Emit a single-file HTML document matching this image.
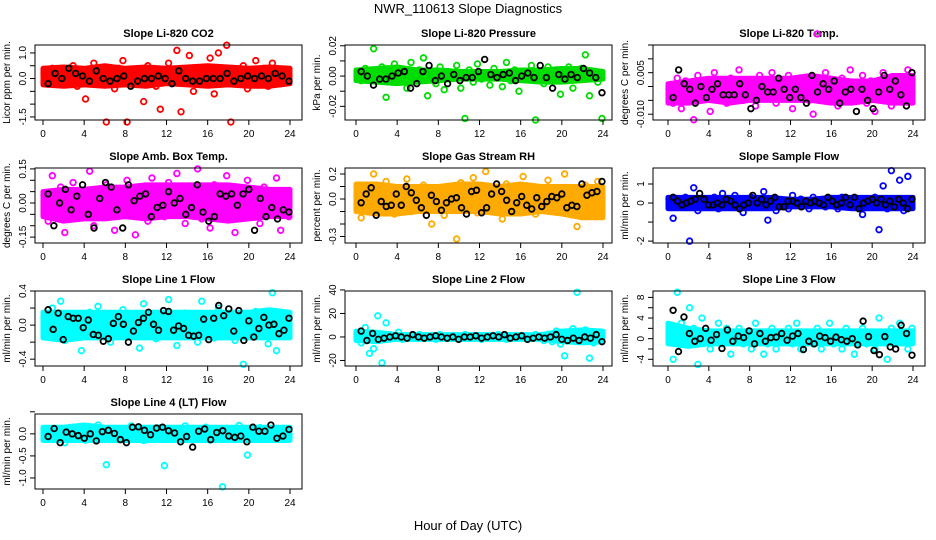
<!DOCTYPE html>
<html><head><meta charset="utf-8"><style>
body{margin:0;background:#fff}
svg{display:block;font-family:"Liberation Sans",sans-serif}
</style></head><body>
<svg id="chart" width="936" height="540" viewBox="0 0 936 540">
<text x="468" y="13" text-anchor="middle" font-size="13">NWR_110613  Slope Diagnostics</text>
<text x="468" y="530" text-anchor="middle" font-size="13">Hour of Day (UTC)</text>
</svg>
<script>
// x-axis categories (hours)
const xTicks = [0,4,8,12,16,20,24];
// hours of the dense-band bins
const bandHours = [0,2,4,6,8,10,12,14,16,18,20,22,24];
// Panel values (colored = all slopes, black = selected slopes)
const co2All = [0.2,-0.1,0.4,0.1,-0.2,0.3,0.0,0.5,-0.3,0.2,-0.8,0.1,0.6,-0.1,0.3,-1.7,0.2,-0.4,0.4,0.7,-1.7,0.1,-0.2,0.3,-0.9,0.5,0.0,-0.3,-1.2,0.2,0.6,-0.1,1.1,-1.3,0.3,0.9,-0.5,0.2,0.4,-0.2,0.8,-0.6,1.0,0.1,1.3,-1.7,0.3,-0.2,0.5,-0.4,0.2,0.7,-0.1,0.4,-0.3,0.6,0.0,-0.2,0.3,0.1];
const co2Sel = [-0.2,0.2,0.0,0.4,0.2,0.1,-0.1,0.3,0.0,-0.1,0.0,0.1,-0.3,-0.1,0.0,0.0,0.1,0.0,-0.2,0.3,0.0,-0.1,-0.1,0.0,0.0,0.0,0.2,-0.1,0.0,0.1,0.0,0.1,0.0,0.2,0.1,-0.1];
const co2Lo = [-0.25,-0.3,-0.25,-0.3,-0.25,-0.3,-0.2,-0.25,-0.3,-0.25,-0.3,-0.3,-0.2];
const co2Hi = [0.4,0.45,0.4,0.5,0.4,0.45,0.4,0.45,0.5,0.45,0.4,0.45,0.4];
const presAll = [0,-3,5,2,18,-2,6,-14,1,8,-4,3,-8,9,-2,4,12,-13,2,-5,6,-9,3,-1,7,-8,-28,4,-4,8,-2,2,-6,5,0,-7,9,-3,4,-10,3,-2,7,-29,1,-5,6,-3,4,-12,2,6,-8,-1,5,14,-13,3,-4,-28];
const presSel = [3,0,-6,-2,-2,0,2,3,-8,-5,3,7,-3,0,-5,1,-3,-1,-1,3,11,1,-1,1,2,-3,0,2,-1,7,-1,-8,1,-2,1,-1,5,2,-1,-11];
const presLo = [-3,-4,-5,-4,-3,-2,-2,-2,-3,-4,-4,-3,-2];
const presHi = [4,5,6,4,4,3,3,3,4,4,5,5,3];
const tempAll = [-1,-6,3,-8,2,-4,-12,4,-2,1,-9,5,-3,0,-6,3,-1,6,-5,2,-3,-7,4,-2,1,5,-6,0,-3,4,-8,2,-1,3,-5,-10,19,-2,5,-4,1,-7,3,-1,6,-3,0,4,-6,2,-9,-1,5,-4,-7,3,1,-5,6,-2];
const tempSel = [-4,6,1,-1,-6,0,-4,-1,1,-3,-3,-3,1,-3,-8,-5,0,-2,-2,3,-1,-4,-1,-4,-6,4,-2,1,-1,2,-6,-2,-1,-9,-1,-5,-8,-2,4,-1,2,-3,-7,5];
const tempLo = [-6,-6,-5,-6,-5,-5,-5,-5,-6,-6,-5,-6,-6];
const tempHi = [1,2,3,3,3,3,3,4,3,2,2,4,4];
const ambAll = [3,-8,12,-3,7,-13,1,9,-6,4,-2,14,-10,5,-4,8,0,-12,6,-5,10,-1,-14,3,7,-8,11,-3,2,-6,9,-4,13,-1,-9,5,-2,15,-7,3,-11,8,-5,1,12,-3,-13,6,-6,10,-2,4,-9,7,0,-4,11,-12,3,-6];
const ambSel = [4,-10,0,6,-3,3,8,-5,-11,2,9,7,-3,-11,8,1,3,4,-6,-2,-1,5,0,2,-5,-2,8,-4,-8,-6,4,3,4,-1,4,6,-12,2,-6,-2,-7,-3,-4];
const ambLo = [-6,-8,-7,-7,-6,-7,-6,-6,-7,-8,-7,-6,-6];
const ambHi = [5,6,6,7,7,8,8,8,8,8,7,6,6];
const rhAll = [4,-15,10,-5,20,-8,2,14,-3,-12,8,0,16,-10,5,-2,11,-7,-20,6,1,-13,9,-4,-32,13,-6,3,17,-11,-1,22,7,-9,4,-16,12,-2,-8,6,18,-5,1,-12,9,-3,15,-7,3,-10,20,-1,6,-22,-14,11,4,-6,14,-9];
const rhSel = [-3,4,9,-13,-2,-6,-5,4,-5,10,5,-1,-7,-13,3,-2,-9,-3,0,1,-7,-12,6,7,-11,-7,4,12,6,-1,-10,-3,2,-5,-8,1,-6,-2,2,1,4,-7,-5,-6,12,3,5,6,14];
const rhLo = [-10,-12,-12,-10,-10,-10,-10,-12,-12,-10,-12,-15,-15];
const rhHi = [12,12,10,10,10,12,12,10,12,10,10,10,10];
const sampAll = [2,-8,1,-2,3,-20,8,-4,0,2,-1,3,-3,5,0,-2,4,-1,-5,1,3,0,-2,6,-9,2,-4,1,0,-3,4,-1,2,0,-3,3,-1,1,-2,2,0,-3,3,1,-2,0,2,-6,1,-1,3,-14,9,-3,17,1,12,-4,14,2];
const sampSel = [3,1,-1,0,1,2,5,2,-1,-1,0,-1,2,1,-1,-3,-1,0,4,0,2,-1,1,3,-2,-2,1,1,0,-2,1,0,1,0,-1,3,1,-1,0,3,-1,3,-3,0,1,2,0,2,-1,1,-2,2,0,-3,2];
const sampLo = [-3,-3,-3,-3,-3,-3,-2,-2,-2,-3,-3,-3,-3];
const sampHi = [3,3,3,3,3,3,2,2,3,3,3,3,3];
const l1All = [8,-12,20,-2,28,-18,5,-8,12,-30,2,15,-5,22,-10,6,-20,-3,10,18,-14,0,8,-27,25,-6,4,-16,12,-2,30,-8,-24,6,14,-12,2,-20,28,-4,8,-15,20,-3,-6,12,-18,4,-46,10,-10,16,-2,6,-22,38,-30,8,-4,10];
const l1Sel = [18,-5,14,-17,10,8,8,-3,6,-11,-12,-19,-16,2,10,1,-20,-7,3,8,15,1,-6,17,16,-6,-1,-4,-12,-13,-12,7,-17,8,23,11,19,-7,17,-18,5,-14,-4,9,0,1,-10,-6,8];
const l1Lo = [-15,-18,-15,-15,-15,-15,-15,-15,-15,-15,-15,-15,-15];
const l1Hi = [15,15,15,15,15,15,15,15,15,15,15,18,15];
const l2All = [3,-5,8,-14,-10,18,-22,12,2,-1,4,-2,1,0,-1,2,-1,0,1,-2,2,0,-1,1,0,-1,2,-1,0,1,-2,0,1,-1,2,0,-2,1,0,-1,1,-2,0,2,-1,-3,2,-4,5,-6,-16,3,7,38,-3,6,-18,-5,3,1];
const l2Sel = [5,-3,3,-2,-1,0,1,0,-1,2,0,-1,0,1,0,-1,0,-2,0,0,1,-1,0,1,0,2,-1,0,1,-2,-1,0,-1,0,2,-2,-3,-1,-3,0,-1,2,-4];
const l2Lo = [-3,-4,-2,-2,-2,-2,-2,-2,-2,-2,-4,-5,-4];
const l2Hi = [5,4,2,2,2,2,2,2,2,2,5,6,5];
const l3All = [1,-4,9,3,-1,6,2,-5,4,0,-2,1,3,-1,2,-3,0,2,-1,1,-2,3,0,-3,-1,2,-2,1,0,2,-1,3,-2,1,0,-1,2,-2,1,3,-1,0,-2,2,1,-3,0,2,-1,1,-2,4,0,-4,2,-1,3,1,-2,2];
const l3Sel = [5.5,-2.5,4.2,1,-0.5,0,2,-0.3,0.8,-1.9,1.7,-0.5,0.5,0.2,1.5,-1,1,-0.5,0.2,0.3,1,-0.3,0.5,1,-2.1,-0.5,-1,0.5,0.2,-0.5,0.3,-0.2,-0.5,0,-1.2,3.4,0.4,-2.3,-3.1,0.4,-1.6,-2,2.6,1,-3.2];
const l3Lo = [-1,-1.5,-1,-1,-1,-1,-1,-1,-1,-1,-1,-1,-1];
const l3Hi = [3,2,1.5,1.5,1.5,1.5,1.5,1.5,1.5,1.5,1.5,1.5,1.5];
const l4All = [4,-10,12,-3,8,-20,0,15,-6,3,-14,9,-2,20,-8,-70,5,-4,12,-12,2,18,-5,7,-15,1,10,-7,14,-72,3,-9,6,-3,18,-11,0,8,-6,15,-14,4,-2,-120,11,-8,2,19,-5,-48,6,-1,14,-10,3,-7,12,-4,6,0];
const l4Sel = [-6,12,-20,4,0,-4,-10,0,-16,5,8,1,-13,-20,15,16,8,-2,13,15,7,2,-18,-6,-30,6,11,-13,3,7,-5,-8,-5,-18,15,6,6,20,-10,-5,10];
const l4Lo = [-15,-15,-15,-15,-15,-15,-15,-15,-15,-15,-15,-15,-15];
const l4Hi = [15,15,20,15,15,15,15,15,15,15,15,15,15];

const panels = [
 {name:'co2',title:'Slope Li-820 CO2',yl:'Licor ppm per min.',all:co2All,sel:co2Sel,lo:co2Lo,hi:co2Hi,u:1,col:0,row:0,ymin:-1.62,ymax:1.31,ticks:[-1.5,-1,-0.5,0,0.5,1],labs:{'1':'1.0','0':'0.0','-1.5':'-1.5'},c:'#ff0000'},
 {name:'pressure',title:'Slope Li-820 Pressure',yl:'kPa per min.',all:presAll,sel:presSel,lo:presLo,hi:presHi,u:0.001,col:1,row:0,ymin:-0.029,ymax:0.0205,ticks:[-0.02,-0.01,0,0.01,0.02],labs:{'0.02':'0.02','0':'0.00','-0.02':'-0.02'},c:'#00dd00'},
 {name:'temp',title:'Slope Li-820 Temp.',yl:'degrees C per min.',all:tempAll,sel:tempSel,lo:tempLo,hi:tempHi,u:0.001,col:2,row:0,ymin:-0.0121,ymax:0.015,ticks:[-0.01,-0.005,0,0.005,0.01,0.015],labs:{'0.005':'0.005','-0.01':'-0.010'},c:'#ff00ff'},
 {name:'amb-temp',title:'Slope Amb. Box Temp.',yl:'degrees C per min.',all:ambAll,sel:ambSel,lo:ambLo,hi:ambHi,u:0.01,col:0,row:1,ymin:-0.176,ymax:0.154,ticks:[-0.15,-0.1,-0.05,0,0.05,0.1,0.15],labs:{'0.15':'0.15','0':'0.00','-0.15':'-0.15'},c:'#ff00ff'},
 {name:'rh',title:'Slope Gas Stream RH',yl:'percent per min.',all:rhAll,sel:rhSel,lo:rhLo,hi:rhHi,u:0.01,col:1,row:1,ymin:-0.352,ymax:0.248,ticks:[-0.3,-0.2,-0.1,0,0.1,0.2],labs:{'0.2':'0.2','0':'0.0','-0.3':'-0.3'},c:'#ffaa00'},
 {name:'sample-flow',title:'Slope Sample Flow',yl:'ml/min per min.',all:sampAll,sel:sampSel,lo:sampLo,hi:sampHi,u:0.1,col:2,row:1,ymin:-2.1,ymax:1.84,ticks:[-2,-1,0,1],labs:{'1':'1','0':'0','-2':'-2'},c:'#0000ff'},
 {name:'line1',title:'Slope Line 1 Flow',yl:'ml/min per min.',all:l1All,sel:l1Sel,lo:l1Lo,hi:l1Hi,u:0.01,col:0,row:2,ymin:-0.48,ymax:0.4,ticks:[-0.4,-0.2,0,0.2,0.4],labs:{'0.4':'0.4','0':'0.0','-0.4':'-0.4'},c:'#00ffff'},
 {name:'line2',title:'Slope Line 2 Flow',yl:'ml/min per min.',all:l2All,sel:l2Sel,lo:l2Lo,hi:l2Hi,u:1,col:1,row:2,ymin:-24.7,ymax:39.1,ticks:[-20,0,20,40],labs:{'40':'40','20':'20','0':'0','-20':'-20'},c:'#00ffff'},
 {name:'line3',title:'Slope Line 3 Flow',yl:'ml/min per min.',all:l3All,sel:l3Sel,lo:l3Lo,hi:l3Hi,u:1,col:2,row:2,ymin:-5.3,ymax:9.24,ticks:[-4,-2,0,2,4,6,8],labs:{'8':'8','4':'4','0':'0','-4':'-4'},c:'#00ffff'},
 {name:'line4',title:'Slope Line 4 (LT) Flow',yl:'ml/min per min.',all:l4All,sel:l4Sel,lo:l4Lo,hi:l4Hi,u:0.01,col:0,row:3,ymin:-1.25,ymax:0.45,ticks:[-1,-0.5,0,0.5],labs:{'0':'0.0','-0.5':'-0.5','-1':'-1.0'},c:'#00ffff'}
];
const NS='http://www.w3.org/2000/svg';
const svg=document.getElementById('chart');
const colLeft=[35,345,653], boxW=[267,267,272], x0off=[8,11,15], x24w=[247,247,245];
const rowTop=[45,168,291,414], boxH=75;
function mk(tag,attrs,parent){const e=document.createElementNS(NS,tag);for(const k in attrs)e.setAttribute(k,attrs[k]);(parent||svg).appendChild(e);return e;}
panels.forEach(p=>{
  const L=colLeft[p.col], T=rowTop[p.row], W=boxW[p.col], B=T+boxH;
  const xs=h=>L+x0off[p.col]+h/24*x24w[p.col];
  const ys=v=>T+(p.ymax-v)/(p.ymax-p.ymin)*boxH;
  const g=mk('g',{});
  
  
  const t=mk('text',{x:L+W/2,y:T-8,'text-anchor':'middle','font-size':11,'font-weight':'bold'},g);
  t.textContent=p.title;
  
  
  const yl=mk('text',{x:0,y:0,'text-anchor':'middle','font-size':10,transform:`translate(${L-25},${T+boxH/2}) rotate(-90)`},g);
  yl.textContent=p.yl;
  
  
  // dense band
  const top=bandHours.map((h,i)=>`${xs(h)},${ys(p.hi[i]*p.u)}`);
  const bot=bandHours.map((h,i)=>`${xs(h)},${ys(p.lo[i]*p.u)}`).reverse();
  const band=mk('polygon',{points:top.concat(bot).join(' '),fill:p.c,stroke:p.c,'stroke-width':5,'stroke-linejoin':'round'},g);
  
  
  const pts=mk('g',{fill:'none','stroke-width':1.8},g);
  
  
  p.all.forEach((v,i)=>{
    const h=0.1+i*23.8/(p.all.length-1);
    const c=mk('circle',{cx:xs(h),cy:ys(v*p.u),r:2.8,stroke:p.c},pts);
    
    
  });
  p.sel.forEach((v,i)=>{
    const h=0.5+i*23.4/(p.sel.length-1);
    const c=mk('circle',{cx:xs(h),cy:ys(v*p.u),r:2.8,stroke:'#000'},pts);
    
    
  });
  const box=mk('rect',{x:L,y:T,width:W,height:boxH,fill:'none',stroke:'#000','stroke-width':1},g);
  
  
  const xa=mk('g',{'font-size':10,'text-anchor':'middle'},g);
  
  
  xTicks.forEach(h=>{
    mk('line',{x1:xs(h),x2:xs(h),y1:B,y2:B+5,stroke:'#000'},xa);
    const tl=mk('text',{x:xs(h),y:B+17},xa);
    tl.textContent=h;
    
    
  });
  const ya=mk('g',{'font-size':10,'text-anchor':'middle'},g);
  
  
  p.ticks.forEach(v=>{
    const y=ys(v);
    mk('line',{x1:L-5,x2:L,y1:y,y2:y,stroke:'#000'},ya);
    const key=String(v);
    if(p.labs[key]!==undefined){
      const tl=mk('text',{x:0,y:0,transform:`translate(${L-9},${y}) rotate(-90)`},ya);
      tl.textContent=p.labs[key];
      
      
    }
  });
});
</script>
</body></html>
